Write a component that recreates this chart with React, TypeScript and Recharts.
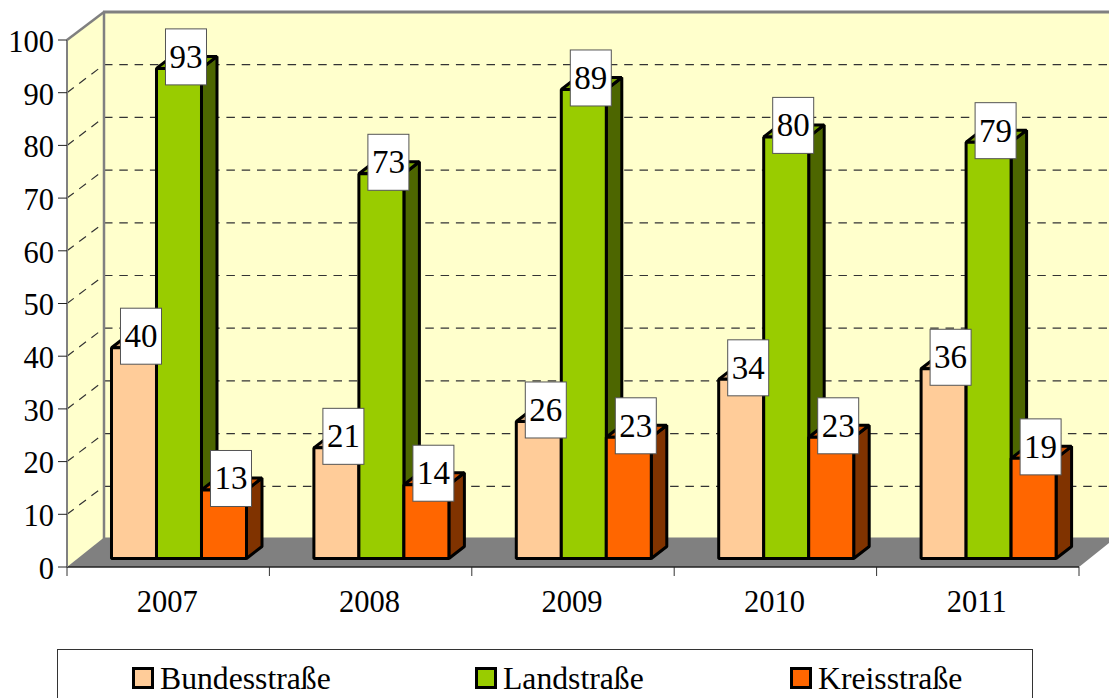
import { BarChart, Bar, XAxis, YAxis, ReferenceArea, LabelList, Legend } from 'recharts'

const years = ['2007', '2008', '2009', '2010', '2011']
const bundesstrasse = [40, 21, 26, 34, 36]
const landstrasse = [93, 73, 89, 80, 79]
const kreisstrasse = [13, 14, 23, 23, 19]
const yTicks = [0, 10, 20, 30, 40, 50, 60, 70, 80, 90, 100]

const data = years.map((year, i) => ({
  year,
  bundesstrasse: bundesstrasse[i],
  landstrasse: landstrasse[i],
  kreisstrasse: kreisstrasse[i],
}))

const FONT = '"Liberation Serif", "Times New Roman", serif'
const GRAY = '#808080'
const WALL = '#FFFFCC'

// 3d look: the floor and walls go back by this much, bars sit part way in
const WALL_DX = 37
const WALL_DY = 28
const BAR_DX = 11.1
const BAR_DY = 8.5
const DEPTH_X = 15.5
const DEPTH_Y = 12

function Wall({ x, y, width, height }: any) {
  const bottom = y + height
  const right = x + width
  const backX = x + WALL_DX
  const grid = yTicks.filter(t => t > 0 && t < 100)
  const ticks = Array.from({ length: years.length + 1 }, (_, i) => x + (width * i) / years.length)

  return (
    <g>
      <polygon
        points={`${x},${y} ${backX},${y - WALL_DY} ${backX},${bottom - WALL_DY} ${x},${bottom}`}
        fill={WALL}
      />
      <rect x={backX} y={y - WALL_DY} width={width} height={height} fill={WALL} />
      <polygon
        points={`${x},${bottom} ${backX},${bottom - WALL_DY - 1.5} ${right + WALL_DX},${bottom - WALL_DY - 1.5} ${right},${bottom}`}
        fill={GRAY}
      />
      {grid.map(t => {
        const gy = bottom - (height * t) / 100
        return (
          <g key={t} stroke="#333" strokeWidth={1.2} strokeDasharray="8.5 6.8">
            <line x1={x} y1={gy} x2={backX} y2={gy - WALL_DY} />
            <line x1={backX} y1={gy - WALL_DY} x2={right + WALL_DX} y2={gy - WALL_DY} />
          </g>
        )
      })}
      <line x1={x} y1={y} x2={backX} y2={y - WALL_DY} stroke={GRAY} strokeWidth={2.5} />
      <line x1={backX - 1} y1={y - WALL_DY} x2={right + WALL_DX} y2={y - WALL_DY} stroke={GRAY} strokeWidth={3} />
      <line x1={backX} y1={y - WALL_DY} x2={backX} y2={bottom - WALL_DY} stroke={GRAY} strokeWidth={2.5} />
      {ticks.map(tx => (
        <line key={tx} x1={tx} y1={bottom} x2={tx} y2={bottom + 9} stroke="#333" strokeWidth={1} />
      ))}
    </g>
  )
}

function makeBar(front: string, top: string, side: string) {
  return function Bar3D({ x, y, width, height }: any) {
    const fx = x + BAR_DX
    const fy = y - BAR_DY
    const fr = fx + width
    const fb = fy + height
    return (
      <g stroke="#000" strokeWidth={3} strokeLinejoin="bevel">
        <polygon
          points={`${fr},${fy} ${fr + DEPTH_X},${fy - DEPTH_Y} ${fr + DEPTH_X},${fb - DEPTH_Y} ${fr},${fb}`}
          fill={side}
        />
        <polygon
          points={`${fx},${fy} ${fx + DEPTH_X},${fy - DEPTH_Y} ${fr + DEPTH_X},${fy - DEPTH_Y} ${fr},${fy}`}
          fill={top}
        />
        <rect x={fx} y={fy} width={width} height={height} fill={front} />
      </g>
    )
  }
}

function ValueBox(props: any) {
  const box = props.viewBox ?? props
  const cx = box.x + BAR_DX + box.width / 2 + 7
  const cy = box.y - BAR_DY - 11.5
  return (
    <g>
      <rect x={cx - 20.5} y={cy - 28} width={41} height={56} fill="#fff" stroke="#555" strokeWidth={1} />
      <text x={cx} y={cy + 11} textAnchor="middle" fontFamily={FONT} fontSize={33} fill="#000">
        {props.value}
      </text>
    </g>
  )
}

const legendColumns = [343, 315, 200]

function LegendBox({ payload }: any) {
  return (
    <div
      style={{
        boxSizing: 'border-box',
        width: 976,
        height: 70,
        border: '1px solid #333',
        paddingLeft: 74,
        display: 'flex',
        background: '#fff',
      }}
    >
      {(payload ?? []).map((item: any, i: number) => (
        <div key={item.value} style={{ width: legendColumns[i], display: 'flex', fontFamily: FONT, fontSize: 31.7, color: '#000' }}>
          <span
            style={{
              boxSizing: 'border-box',
              width: 22,
              height: 22,
              marginTop: 17,
              marginRight: 6,
              border: '3px solid #000',
              background: item.color,
            }}
          />
          <span style={{ lineHeight: '34px', marginTop: 12 }}>{item.value}</span>
        </div>
      ))}
    </div>
  )
}

export default function App() {
  return (
    <div style={{ position: 'absolute', left: 0, top: 0, width: 1109, height: 698, overflow: 'hidden', background: '#fff' }}>
      <BarChart
        width={1109}
        height={698}
        data={data}
        margin={{ top: 40, right: 30, bottom: 0, left: 0 }}
        barCategoryGap="16.5%"
        barGap={0}
      >
        <ReferenceArea y1={0} y2={100} ifOverflow="visible" shape={Wall} />
        <XAxis
          dataKey="year"
          height={131}
          tickLine={false}
          axisLine={{ stroke: '#222', strokeWidth: 1.5 }}
          tickMargin={17}
          tick={{ fill: '#000', fontFamily: FONT, fontSize: 30.5, dx: -1 }}
        />
        <YAxis
          width={67}
          domain={[0, 100]}
          ticks={yTicks}
          interval={0}
          tickSize={9}
          tickMargin={4}
          axisLine={{ stroke: GRAY, strokeWidth: 2 }}
          tickLine={{ stroke: '#222', strokeWidth: 1 }}
          tick={{ fill: '#000', fontFamily: FONT, fontSize: 30.5, dy: 1 }}
        />
        <Legend
          verticalAlign="middle"
          itemSorter={null}
          content={<LegendBox />}
          wrapperStyle={{ position: 'absolute', left: 57, top: 649, width: 976 }}
        />
        <Bar
          dataKey="bundesstrasse"
          name="Bundesstraße"
          fill="#FFCC99"
          isAnimationActive={false}
          shape={makeBar('#FFCC99', '#CCA37A', '#80664D')}
        >
          <LabelList dataKey="bundesstrasse" content={ValueBox} />
        </Bar>
        <Bar
          dataKey="landstrasse"
          name="Landstraße"
          fill="#99CC00"
          isAnimationActive={false}
          shape={makeBar('#99CC00', '#7AA300', '#4D6600')}
        >
          <LabelList dataKey="landstrasse" content={ValueBox} />
        </Bar>
        <Bar
          dataKey="kreisstrasse"
          name="Kreisstraße"
          fill="#FF6600"
          isAnimationActive={false}
          shape={makeBar('#FF6600', '#CC5200', '#803300')}
        >
          <LabelList dataKey="kreisstrasse" content={ValueBox} />
        </Bar>
      </BarChart>
    </div>
  )
}
